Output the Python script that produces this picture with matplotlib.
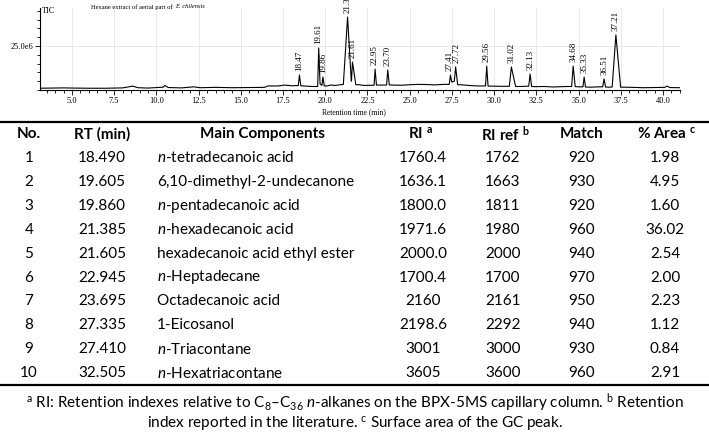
import numpy as np
import matplotlib
matplotlib.use("Agg")
import matplotlib.pyplot as plt
from matplotlib.ticker import MultipleLocator, FixedLocator, FormatStrFormatter
from matplotlib.lines import Line2D

plt.rcParams['mathtext.fontset'] = 'custom'
plt.rcParams['mathtext.rm'] = 'Lato'
plt.rcParams['mathtext.it'] = 'Lato:italic'
plt.rcParams['mathtext.bf'] = 'Lato:bold'

# ---- chromatogram data (signal in units of 1e6) ----
base_t = [3.1, 4.5, 5.0, 6.0, 7.0, 8.0, 8.6, 8.9, 9.5, 10.4, 10.5, 10.7, 11.5, 12.2, 12.6,
          13.5, 14.5, 15.5, 16.4, 16.6, 17.2, 17.6, 18.0, 18.3, 18.7, 19.2, 20.1, 20.3,
          20.6, 20.9, 22.0, 22.3, 23.3, 24.0, 24.5, 25.0, 25.5, 26.0, 26.5, 27.0, 28.0,
          28.5, 29.0, 29.9, 30.4, 31.6, 32.4, 33.0, 33.5, 34.0, 34.4, 35.0, 35.7, 36.2,
          36.8, 37.7, 38.2, 38.8, 39.5, 40.1, 40.25, 40.4, 41.0]
base_v = [1.0, 1.2, 1.1, 1.0, 1.0, 1.2, 2.2, 1.3, 1.1, 1.6, 2.6, 1.4, 1.2, 1.8, 1.3,
          1.5, 1.3, 1.4, 1.5, 2.3, 2.3, 2.8, 2.4, 2.5, 2.3, 2.0, 2.3, 2.8,
          2.6, 3.0, 3.0, 2.6, 2.8, 2.8, 2.7, 3.0, 3.2, 3.1, 2.9, 3.2, 3.0,
          2.6, 2.3, 2.2, 2.1, 2.0, 1.9, 2.0, 1.7, 1.9, 2.0, 1.8, 1.6, 1.8,
          1.6, 1.6, 1.5, 1.3, 1.4, 1.5, 2.2, 1.4, 1.3]

peak_rt = [18.47, 19.61, 19.86, 21.32, 21.61, 22.95, 23.70, 27.41, 27.72,
           29.56, 31.02, 32.13, 34.68, 35.33, 36.51, 37.21]
peak_label = ["18.47", "19.61", "19.86", "21.32", "21.61", "22.95", "23.70", "27.41", "27.72",
              "29.56", "31.02", "32.13", "34.68", "35.33", "36.51", "37.21"]
peak_h = [8.5, 23.9, 7.4, 41.5, 15.9, 11.9, 11.4, 8.5, 13.1,
          13.6, 13.1, 9.1, 13.6, 7.4, 6.3, 31.3]
peak_left = [0.07, 0.06, 0.06, 0.25, 0.06, 0.06, 0.07, 0.07, 0.08,
             0.07, 0.12, 0.08, 0.09, 0.07, 0.08, 0.22]
peak_right = [0.08, 0.08, 0.08, 0.22, 0.2, 0.08, 0.09, 0.08, 0.12,
              0.08, 0.25, 0.09, 0.12, 0.08, 0.09, 0.28]
peak_foot_l = [2.5, 2.0, 2.6, 3.2, 5.0, 2.7, 2.8, 3.2, 5.0,
               2.3, 2.1, 2.2, 2.0, 1.8, 1.8, 1.7]
peak_foot_r = [2.4, 3.5, 2.3, 5.0, 3.0, 2.8, 2.9, 4.5, 3.0,
               2.2, 2.0, 2.0, 1.9, 1.7, 1.7, 1.6]

# ---- table data ----
col_no = ["1", "2", "3", "4", "5", "6", "7", "8", "9", "10"]
col_rt = ["18.490", "19.605", "19.860", "21.385", "21.605", "22.945", "23.695", "27.335", "27.410", "32.505"]
col_comp = [r"$\it{n}$-tetradecanoic acid", "6,10-dimethyl-2-undecanone", r"$\it{n}$-pentadecanoic acid",
            r"$\it{n}$-hexadecanoic acid", "hexadecanoic acid ethyl ester", r"$\it{n}$-Heptadecane",
            "Octadecanoic acid", "1-Eicosanol", r"$\it{n}$-Triacontane", r"$\it{n}$-Hexatriacontane"]
col_ri = ["1760.4", "1636.1", "1800.0", "1971.6", "2000.0", "1700.4", "2160", "2198.6", "3001", "3605"]
col_riref = ["1762", "1663", "1811", "1980", "2000", "1700", "2161", "2292", "3000", "3600"]
col_match = ["920", "930", "920", "960", "940", "970", "950", "940", "930", "960"]
col_area = ["1.98", "4.95", "1.60", "36.02", "2.54", "2.00", "2.23", "1.12", "0.84", "2.91"]

W, H = 709, 434
fig = plt.figure(figsize=(W / 100, H / 100), dpi=100)

def fx(px):
    return px / W

def fy(py):
    return 1 - py / H

# ---- chromatogram ----
serif = 'Liberation Serif'
ax = fig.add_axes([fx(40), fy(90), 640 / W, 82 / H])

pts = list(zip(base_t, base_v))
for i in range(len(peak_rt)):
    pts.append((peak_rt[i] - peak_left[i], peak_foot_l[i]))
    pts.append((peak_rt[i], peak_h[i]))
    pts.append((peak_rt[i] + peak_right[i], peak_foot_r[i]))
pts.sort()
tr = np.array(pts)
ax.plot(tr[:, 0], tr[:, 1], color='black', lw=0.8)

for i in range(len(peak_rt)):
    # nudge the two close labels apart a little
    dx = -0.06 if peak_label[i] == "27.41" else (0.04 if peak_label[i] == "27.72" else 0)
    ax.text(peak_rt[i] + dx, peak_h[i] + 2.2, peak_label[i], rotation=90, ha='center', va='bottom',
            family=serif, fontsize=6.5, clip_on=False)

ax.set_xlim(3.105, 41.007)
ax.set_ylim(0, 46.6)
ax.xaxis.set_major_locator(MultipleLocator(2.5))
ax.xaxis.set_minor_locator(MultipleLocator(0.5))
ax.xaxis.set_major_formatter(FormatStrFormatter('%.1f'))
ax.yaxis.set_major_locator(FixedLocator([25]))
ax.yaxis.set_minor_locator(MultipleLocator(5))
ax.set_yticklabels(["25.0e6"])
ax.tick_params(which='major', length=3.5, width=0.6, labelsize=6, pad=1.5)
ax.tick_params(which='minor', length=2.5, width=0.6)
for lab in ax.get_xticklabels() + ax.get_yticklabels():
    lab.set_family(serif)
ax.grid(True, which='major', color='#e6e6e6', lw=0.6)
ax.spines['top'].set_visible(False)
ax.spines['right'].set_visible(False)
ax.spines['left'].set_linewidth(0.8)
ax.spines['bottom'].set_linewidth(0.8)
ax.set_xlabel("Retention time (min)", family=serif, fontsize=5.5)
ax.xaxis.set_label_coords((354 - 40) / 640, -0.22)

fig.text(fx(42), fy(11), "TIC", family=serif, fontsize=6, va='center')
r = fig.canvas.get_renderer()
t1 = fig.text(fx(91), fy(7), "Hexane extract of aerial part of", family=serif, fontsize=4.7, va='center')
bb = t1.get_window_extent(r)
fig.text((bb.x1 + 2.2) / W, fy(7), "E. chilensis", family=serif, style='italic', fontsize=4.7, va='center')

# ---- table ----
tf = 'Lato'
fs = 11
fig.add_artist(Line2D([0, 1], [fy(122), fy(122)], color='black', lw=1.6))
fig.add_artist(Line2D([0, 1], [fy(385), fy(385)], color='black', lw=1.6))

hy = fy(134)
fig.text(fx(29), hy, "No.", family=tf, weight='bold', fontsize=fs, ha='center', va='center')
fig.text(fx(102), hy, "RT (min)", family=tf, weight='bold', fontsize=fs, ha='center', va='center')
fig.text(fx(263), hy, "Main Components", family=tf, weight='bold', fontsize=fs, ha='center', va='center')
fig.text(fx(421), hy, r"RI $^{\bf a}$", family=tf, weight='bold', fontsize=fs, ha='center', va='center')
fig.text(fx(505), hy, r"RI ref $^{\bf b}$", family=tf, weight='bold', fontsize=fs, ha='center', va='center')
fig.text(fx(582), hy, "Match", family=tf, weight='bold', fontsize=fs, ha='center', va='center')
fig.text(fx(667), hy, r"% Area $^{\bf c}$", family=tf, weight='bold', fontsize=fs, ha='center', va='center')

for i in range(len(col_no)):
    y = fy(158 + 23.9 * i)
    fig.text(fx(29), y, col_no[i], family=tf, fontsize=fs, ha='center', va='center')
    fig.text(fx(102), y, col_rt[i], family=tf, fontsize=fs, ha='center', va='center')
    fig.text(fx(157), y, col_comp[i], family=tf, fontsize=fs, ha='left', va='center')
    fig.text(fx(423), y, col_ri[i], family=tf, fontsize=fs, ha='center', va='center')
    fig.text(fx(503), y, col_riref[i], family=tf, fontsize=fs, ha='center', va='center')
    fig.text(fx(582), y, col_match[i], family=tf, fontsize=fs, ha='center', va='center')
    fig.text(fx(665), y, col_area[i], family=tf, fontsize=fs, ha='center', va='center')

fig.text(0.5, fy(403), r"$^{\rm a}$ RI: Retention indexes relative to C$_{8}$–C$_{36}$ $\it{n}$-alkanes on the BPX-5MS capillary column. $^{\rm b}$ Retention",
         family=tf, fontsize=fs, ha='center', va='center')
fig.text(0.5, fy(425), r"index reported in the literature. $^{\rm c}$ Surface area of the GC peak.",
         family=tf, fontsize=fs, ha='center', va='center')

fig.savefig("out.png", dpi=100)
